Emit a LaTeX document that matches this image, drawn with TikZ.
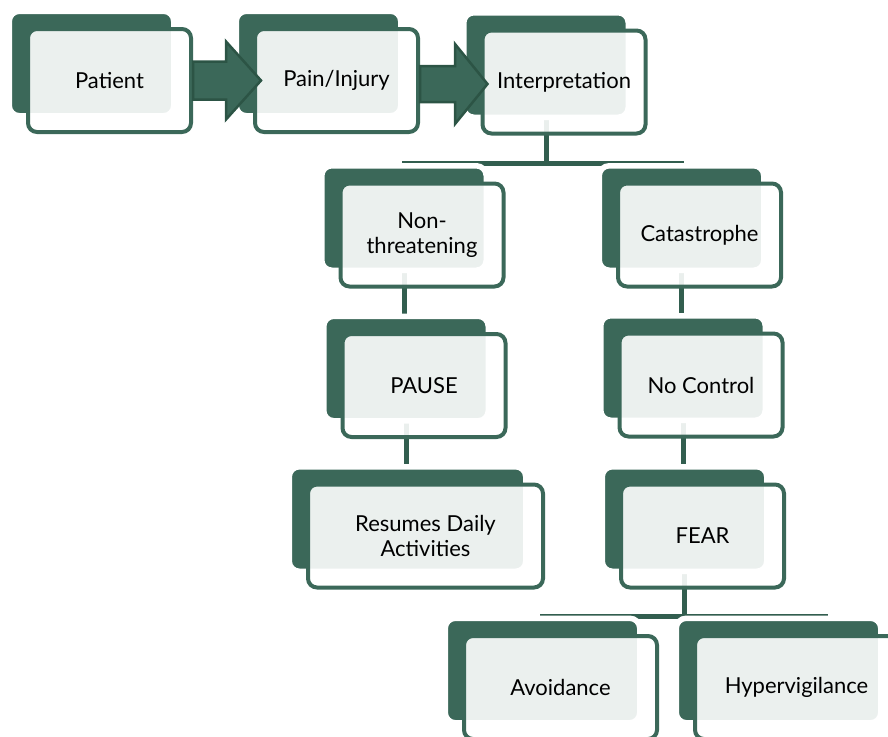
\documentclass[tikz,border=0pt]{standalone}
\usepackage{fontspec}
\setmainfont{Lato}
\usetikzlibrary{calc, fit, backgrounds}
\pgfdeclarelayer{links}
\pgfsetlayers{links,background,main}
\definecolor{dkgreen}{RGB}{59,104,89}
\definecolor{linkgreen}{RGB}{50,94,79}
\definecolor{arrowedge}{RGB}{44,84,69}
\tikzset{
  box/.style={draw=dkgreen, line width=4pt, fill=white, fill opacity=0.9, text opacity=1,
    rounded corners=9pt, minimum width=163pt, minimum height=103pt, inner sep=0pt,
    align=center, font=\fontsize{22}{25}\selectfont},
  back/.style={fill=dkgreen, draw=white, line width=5.5pt, rounded corners=10pt,
    inner sep=0pt, outer sep=0pt},
  link/.style={draw=linkgreen, line width=5pt},
  flow/.style={fill=dkgreen, draw=arrowedge, line width=2.5pt, line join=miter}
}

\begin{document}
\begin{tikzpicture}[x=1pt, y=-1pt]
  \useasboundingbox (0,0) rectangle (888,736);

  % boxes
  \node[box] (patient) at (109.5,80.5) {Patient};
  \node[box] (pain) at (336.5,80.5) {Pain/Injury};
  \node[box] (interp) at (564,82) {Interpretation};
  \node[box] (nonthr) at (422,235) {Non-\\threatening};
  \node[box] (cata) at (699.5,235) {Catastrophe};
  \node[box] (pause) at (424,385.5) {PAUSE};
  \node[box] (noctrl) at (701,385) {No Control};
  \node[box, minimum width=235pt] (resume) at (425.5,536) {Resumes Daily\\Activities};
  \node[box] (fear) at (702.5,536) {FEAR};
  \node[box, minimum width=193pt] (avoid) at (560.5,687.5) {Avoidance};
  \node[box, minimum width=203pt] (hyper) at (796.5,687.5) {Hypervigilance};

  % dark backs
  \begin{scope}[on background layer]
    \foreach \n in {patient,pain,interp,nonthr,cata,pause,noctrl,resume,fear,avoid,hyper}
      \node[back, fit={($(\n.north west)+(-16.75,-15.75)$) ($(\n.south east)+(-19.25,-18.25)$)}] (\n-bk) {};
  \end{scope}

  % tree lines
  \begin{pgfonlayer}{links}
    \coordinate (fork1) at ($(interp-bk.south)+(0,46)$);
    \draw[link] (interp-bk.south) -- (fork1) -| (nonthr-bk.north);
    \draw[link] (fork1) -| (cata-bk.north);
    \draw[link] (nonthr-bk.south) -- (nonthr-bk.south |- pause-bk.north);
    \draw[link] (pause-bk.south) -- (pause-bk.south |- resume-bk.north);
    \draw[link] (cata-bk.south) -- (cata-bk.south |- noctrl-bk.north);
    \draw[link] (noctrl-bk.south) -- (noctrl-bk.south |- fear-bk.north);
    \coordinate (fork2) at ($(fear-bk.south)+(0,45)$);
    \draw[link] (fear-bk.south) -- (fork2) -| (avoid-bk.north);
    \draw[link] (fork2) -| ([xshift=47pt]hyper-bk.north);
  \end{pgfonlayer}

  % block arrows
  \draw[flow] ($(patient.east)+(0,-19)$) -- ++(33,0) -- ++(0,-20) -- ($(pain.west)+(8,0)$)
    -- ($(patient.east)+(33,39)$) -- ++(0,-20) -- ($(patient.east)+(0,19)$) -- cycle;
  \draw[flow] ($(pain.east)+(0,-14.5)$) -- ++(35,0) -- ++(0,-22) -- ($(interp.west)+(7,2)$)
    -- ($(pain.east)+(35,43.5)$) -- ++(0,-22) -- ($(pain.east)+(0,21.5)$) -- cycle;
\end{tikzpicture}
\end{document}
